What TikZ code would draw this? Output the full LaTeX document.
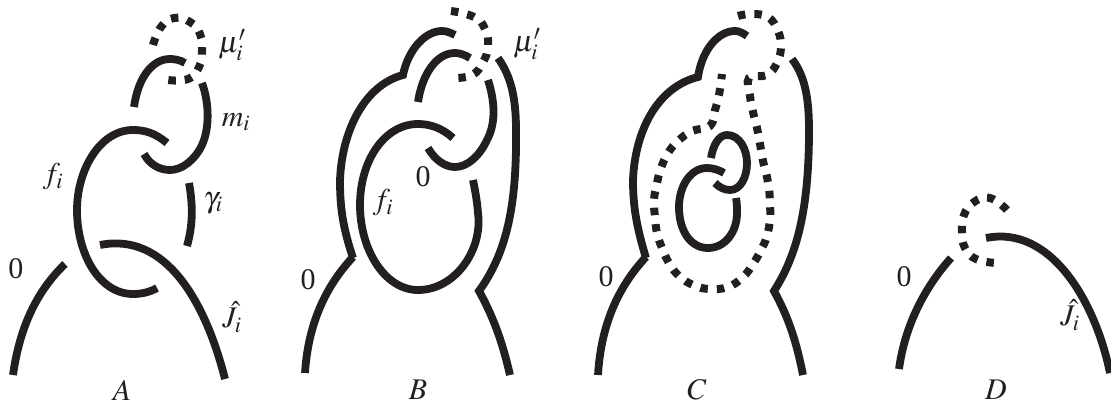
\documentclass[tikz,border=0pt]{standalone}
\usepackage{mathptmx}
\usepackage{fontspec}
\setmainfont{Liberation Serif}
\definecolor{knotblack}{RGB}{35,31,32}
\tikzset{
  strand/.style={line width=7.8pt, knotblack},
  dotstrand/.style={line width=8pt, knotblack, dash pattern=on 7.5pt off 9pt},
  lab/.style={inner sep=0pt, text=knotblack, font=\fontsize{30}{32}\selectfont}
}
\begin{document}
\begin{tikzpicture}[x=1pt, y=-1pt]
    \useasboundingbox (0,0) rectangle (1111,401);

    % A
    \draw[strand] (13,375) .. controls (20,325) and (38,290) .. (65,264);
    \draw[strand] (100,245) .. controls (165,232) and (205,300) .. (225,379);
    \draw[strand] (167,143) .. controls (155,133) and (145,130) .. (133,130) .. controls (100,130) and (77,170) .. (77,210) .. controls (77,255) and (100,294) .. (133,294) .. controls (142,294) and (150,292) .. (157,288);
    \draw[strand] (134,107) .. controls (138,78) and (152,59) .. (170,59) .. controls (175,59) and (180,60) .. (185,63);
    \draw[strand] (202,83) .. controls (210,105) and (209,130) .. (202,145) .. controls (195,160) and (182,170) .. (170,170) .. controls (160,170) and (150,165) .. (144,154);
    \draw[strand] (189,183) .. controls (193,205) and (193,225) .. (187,246);
    \draw[dotstrand] plot[smooth, tension=0.8] coordinates {(153,45) (161,27) (174,18) (190,22) (200,34) (202,51) (199,67) (188,79) (168,80)};

    \node[lab] (muA) at (232,45) {$\mu'_i$};
    \node[lab] (mA) at (236,122) {$m_i$};
    \node[lab] (fA) at (53,177) {$f_i$};
    \node[lab] (gammaA) at (213,203) {$\gamma_i$};
    \node[lab] (zeroA) at (16,269) {0};
    \node[lab] (JA) at (232,317) {$\hat{J}_i$};
    \node[lab] (nameA) at (122,390) {$A$};

    % B
    \draw[strand] (305,373) .. controls (308,325) and (325,287) .. (353,257);
    \draw[strand] (353,258) .. controls (342,225) and (340,205) .. (340,180) .. controls (342,130) and (365,85) .. (403,75) .. controls (408,50) and (425,31) .. (442,31) .. controls (447,31) and (451,33) .. (455,35);
    \draw[strand] (510,375) .. controls (503,345) and (495,320) .. (479,291) .. controls (505,255) and (517,210) .. (516,130) .. controls (516,95) and (510,75) .. (498,58);
    \draw[strand] (453,138) .. controls (442,128) and (430,124) .. (418,124) .. controls (385,124) and (360,160) .. (360,205) .. controls (360,250) and (385,290) .. (418,290) .. controls (455,290) and (483,250) .. (478,213) .. controls (477,200) and (475,190) .. (473,180);
    \draw[strand] (418,102) .. controls (422,75) and (436,53) .. (455,53) .. controls (460,53) and (465,55) .. (470,58);
    \draw[strand] (488,80) .. controls (496,105) and (495,125) .. (487,140) .. controls (480,155) and (468,167) .. (455,167) .. controls (445,167) and (435,160) .. (428,148);
    \draw[dotstrand] plot[smooth, tension=0.8] coordinates {(451,11) (474,17) (485,29) (488,46) (483,62) (472,75) (453,78)};

    \node[lab] (muB) at (527,44) {$\mu'_i$};
    \node[lab] (zeroBa) at (423,177) {0};
    \node[lab] (fB) at (383,203) {$f_i$};
    \node[lab] (zeroB) at (308,280) {0};
    \node[lab] (nameB) at (418,390) {$B$};

    % C
    \draw[strand] (598,375) .. controls (601,325) and (618,287) .. (646,257);
    \draw[strand] (646,258) .. controls (636,225) and (633,205) .. (633,180) .. controls (635,130) and (658,87) .. (698,77) .. controls (702,50) and (718,31) .. (735,31) .. controls (739,31) and (743,33) .. (747,36);
    \draw[strand] (803,375) .. controls (797,345) and (790,320) .. (774,291) .. controls (797,255) and (809,210) .. (809,130) .. controls (809,95) and (804,75) .. (792,59);
    \draw[strand] (724,173) .. controls (719,170) and (713,168) .. (707,168) .. controls (690,168) and (679,187) .. (679,207) .. controls (679,230) and (690,248) .. (708,248) .. controls (725,248) and (737,232) .. (737,213) .. controls (737,208) and (737,203) .. (736,198);
    \draw[strand] (711,158) .. controls (713,145) and (719,135) .. (727,135) .. controls (740,135) and (747,150) .. (747,163) .. controls (747,178) and (740,190) .. (730,190) .. controls (724,190) and (719,187) .. (715,183);
    \draw[dotstrand] plot[smooth, tension=0.7] coordinates {(738,16) (751,14) (768,17) (778,31) (781,47) (777,63) (767,75) (749,78) (750,96) (753,112) (757,128) (760,144) (763,161) (767,177) (769,188) (770,204) (770,219) (767,236) (761,250) (753,264) (743,277) (728,287) (709,289) (693,285) (679,276) (669,263) (662,248) (657,233) (655,217) (654,200) (657,183) (661,168) (668,153) (678,141) (692,131) (710,126) (715,110) (719,95) (722,74)};

    \node[lab] (zeroC) at (606,277) {0};
    \node[lab] (nameC) at (697,390) {$C$};

    % D
    \draw[strand] (899,369) .. controls (905,325) and (925,287) .. (951,258);
    \draw[strand] (986,238) .. controls (1050,225) and (1095,300) .. (1110,373);
    \draw[dotstrand] plot[smooth, tension=0.8] coordinates {(1007,210) (990,198) (974,202) (964,215) (962,232) (965,248) (976,259) (996,263)};

    \node[lab] (zeroD) at (904,277) {0};
    \node[lab] (JD) at (1070,315) {$\hat{J}_i$};
    \node[lab] (nameD) at (996,390) {$D$};
  \end{tikzpicture}
\end{document}
